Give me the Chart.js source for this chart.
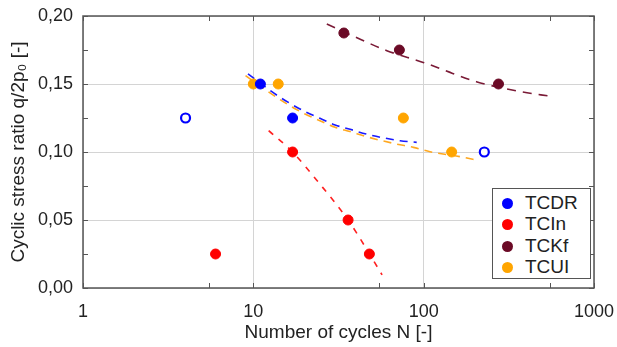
<!DOCTYPE html>
<html>
<head>
<meta charset="utf-8">
<script src="https://cdn.jsdelivr.net/npm/chart.js@4.4.1/dist/chart.umd.min.js"></script>
<style>
    body { margin: 0; background: #fff; }
    #wrap { position: relative; width: 617px; height: 347px; }
    #legend {
        position: absolute; left: 492px; top: 188px; width: 97px; height: 89px;
        border: 1.5px solid #555; background: #fff;
        font-family: "Liberation Sans", Arial, sans-serif; font-size: 19px; color: #222;
    }
    #legend .row { position: absolute; left: 0; height: 22px; line-height: 22px; }
    #legend .dot { position: absolute; left: 9px; top: 6px; width: 11px; height: 11px; border-radius: 50%; }
    #legend .lbl { position: absolute; left: 32px; top: 0; white-space: nowrap; }
</style>
</head>
<body>
<div id="wrap">
    <canvas id="myChart" width="617" height="347"></canvas>
    <div id="legend"></div>
</div>
<script>
// Ejes
const cycleTicks = [1, 10, 100, 1000];
const cycleMinorTicks = [5.5, 55, 550];
const ratioTicks = [0, 0.05, 0.1, 0.15, 0.2];
const ratioMinorTicks = [0.025, 0.075, 0.125, 0.175];

// Ensayos
const seriesNames = ['TCDR', 'TCIn', 'TCKf', 'TCUI'];
const tcdrN = [11, 17];
const tcdrQ = [0.15, 0.125];
const tcdrOpenN = [4, 227];
const tcdrOpenQ = [0.125, 0.1];
const tcinN = [6, 17, 36, 48];
const tcinQ = [0.025, 0.1, 0.05, 0.025];
const tckfN = [34, 72, 275];
const tckfQ = [0.1875, 0.175, 0.15];
const tcuiN = [10, 14, 76, 146];
const tcuiQ = [0.15, 0.15, 0.125, 0.1];

// Curvas de ajuste
const fitTcdrN = [9.3, 13.7, 16.4, 20.1, 24.6, 30.2, 37, 46, 72.7, 91];
const fitTcdrQ = [0.1575, 0.1419, 0.1358, 0.1297, 0.1248, 0.1199, 0.1167, 0.1132, 0.1083, 0.1071];
const fitTcinN = [12.3, 17, 23.5, 36, 48.5, 57];
const fitTcinQ = [0.1157, 0.1, 0.0794, 0.05, 0.0243, 0.0096];
const fitTckfN = [27, 42.4, 60.8, 100.5, 148, 204, 352, 574];
const fitTckfQ = [0.1941, 0.1829, 0.1745, 0.1657, 0.1578, 0.1517, 0.1449, 0.1407];
const fitTcuiN = [9, 13.7, 16.4, 20.1, 24.6, 30.2, 37, 46, 69, 87, 109, 163, 212];
const fitTcuiQ = [0.1561, 0.1402, 0.134, 0.128, 0.123, 0.1182, 0.115, 0.1113, 0.1059, 0.1034, 0.1002, 0.0966, 0.0936];

const colors = ['#0000ff', '#ff0000', '#6b0a26', '#ffa500'];
const fitColors = ['#1a1aff', '#ff2020', '#7a1a36', '#ffa820'];

function toPoints(xs, ys) {
    return xs.map((x, i) => ({ x: x, y: ys[i] }));
}

function pointSet(label, xs, ys, color) {
    return {
        label: label,
        data: toPoints(xs, ys),
        backgroundColor: color,
        borderColor: color,
        borderWidth: 1,
        pointRadius: 5,
        showLine: false,
        order: 0
    };
}

function fitSet(xs, ys, color, dash) {
    return {
        label: '',
        data: toPoints(xs, ys),
        borderColor: color,
        borderWidth: 1.6,
        borderDash: dash,
        pointRadius: 0,
        showLine: true,
        cubicInterpolationMode: 'monotone',
        order: 1
    };
}

// Marco y marcas interiores
const framePlugin = {
    id: 'frame',
    afterDraw(chart) {
        const ctx = chart.ctx;
        const a = chart.chartArea;
        const xs = chart.scales.x;
        const ys = chart.scales.y;
        const len = 5;
        ctx.save();
        ctx.strokeStyle = '#555';
        ctx.lineWidth = 1.5;
        ctx.strokeRect(a.left, a.top, a.right - a.left, a.bottom - a.top);
        ctx.lineWidth = 1;
        ctx.beginPath();
        cycleTicks.concat(cycleMinorTicks).forEach((v) => {
            const px = Math.round(xs.getPixelForValue(v)) + 0.5;
            ctx.moveTo(px, a.bottom); ctx.lineTo(px, a.bottom - len);
            ctx.moveTo(px, a.top); ctx.lineTo(px, a.top + len);
        });
        ratioTicks.concat(ratioMinorTicks).forEach((v) => {
            const py = Math.round(ys.getPixelForValue(v)) + 0.5;
            ctx.moveTo(a.left, py); ctx.lineTo(a.left + len, py);
            ctx.moveTo(a.right, py); ctx.lineTo(a.right - len, py);
        });
        ctx.stroke();
        ctx.restore();
    }
};

const tickFont = { family: '"Liberation Sans", Arial, sans-serif', size: 18 };
const titleFont = { family: '"Liberation Sans", Arial, sans-serif', size: 19 };

window.onload = function() {
    const ctx = document.getElementById('myChart').getContext('2d');
    new Chart(ctx, {
        type: 'scatter',
        data: {
            datasets: [
                pointSet(seriesNames[0], tcdrN, tcdrQ, colors[0]),
                {
                    label: 'TCDR (open)',
                    data: toPoints(tcdrOpenN, tcdrOpenQ),
                    backgroundColor: '#ffffff',
                    borderColor: colors[0],
                    borderWidth: 2.2,
                    pointRadius: 4.5,
                    order: 0
                },
                pointSet(seriesNames[1], tcinN, tcinQ, colors[1]),
                pointSet(seriesNames[2], tckfN, tckfQ, colors[2]),
                pointSet(seriesNames[3], tcuiN, tcuiQ, colors[3]),
                fitSet(fitTcdrN, fitTcdrQ, fitColors[0], [8, 6]),
                fitSet(fitTcinN, fitTcinQ, fitColors[1], [6, 7]),
                fitSet(fitTckfN, fitTckfQ, fitColors[2], [9, 7]),
                fitSet(fitTcuiN, fitTcuiQ, fitColors[3], [8, 6])
            ]
        },
        options: {
            responsive: false,
            animation: false,
            devicePixelRatio: 1,
            layout: { padding: { top: 16, right: 23, left: 0, bottom: 0 } },
            plugins: {
                legend: { display: false },
                tooltip: { enabled: false }
            },
            scales: {
                x: {
                    type: 'logarithmic',
                    min: 1,
                    max: 1000,
                    afterBuildTicks: (scale) => {
                        scale.ticks = cycleTicks.map((v) => ({ value: v }));
                    },
                    afterFit: (scale) => {
                        scale.height = 59;
                        scale.paddingLeft = 0;
                        scale.paddingRight = 0;
                    },
                    ticks: {
                        color: '#222',
                        font: tickFont,
                        padding: 13,
                        maxRotation: 0,
                        callback: (v) => String(v)
                    },
                    grid: { color: '#d4d4d4', lineWidth: 1, drawTicks: false },
                    border: { display: false },
                    title: {
                        display: true,
                        text: 'Number of cycles N [-]',
                        color: '#222',
                        font: titleFont,
                        padding: { top: 0, bottom: 3 }
                    }
                },
                y: {
                    min: 0,
                    max: 0.2,
                    afterBuildTicks: (scale) => {
                        scale.ticks = ratioTicks.map((v) => ({ value: v }));
                    },
                    afterFit: (scale) => {
                        scale.width = 83;
                        scale.paddingTop = 0;
                        scale.paddingBottom = 0;
                    },
                    ticks: {
                        color: '#222',
                        font: tickFont,
                        padding: 10,
                        callback: (v) => v.toFixed(2).replace('.', ',')
                    },
                    grid: { color: '#d4d4d4', lineWidth: 1, drawTicks: false },
                    border: { display: false },
                    title: {
                        display: true,
                        text: 'Cyclic stress ratio q/2p\u2080 [-]',
                        color: '#222',
                        font: titleFont,
                        padding: { top: 7, bottom: 0 }
                    }
                }
            }
        },
        plugins: [framePlugin]
    });

    // Leyenda
    const legend = document.getElementById('legend');
    seriesNames.forEach((name, i) => {
        const row = document.createElement('div');
        row.className = 'row';
        row.style.top = (3 + i * 21.3) + 'px';
        row.innerHTML = '<span class="dot" style="background:' + colors[i] + '"></span><span class="lbl">' + name + '</span>';
        legend.appendChild(row);
    });
};
</script>
</body>
</html>
